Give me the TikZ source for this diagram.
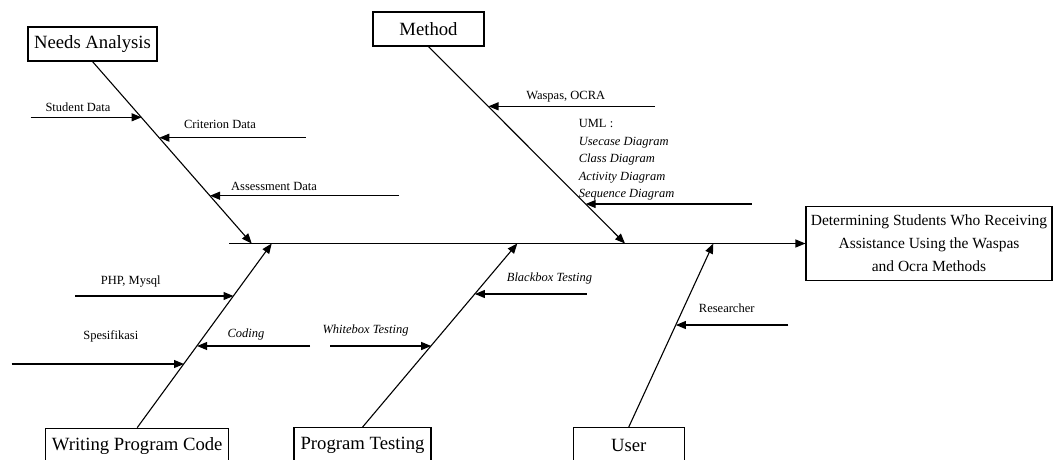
\documentclass[tikz,border=0pt]{standalone}
\usepackage{fontspec}
\setmainfont{Liberation Serif}
\usetikzlibrary{arrows.meta}
\begin{document}
\begin{tikzpicture}[x=1pt,y=-1pt,
  line width=1.1pt,
  box/.style={draw, line width=1.1pt, inner sep=0pt, font=\fontsize{18.7}{22}\selectfont},
  arr/.style={-{Triangle[length=10pt,width=8pt]}},
  lbl/.style={inner sep=0pt, font=\fontsize{12.5}{15}\selectfont},
  ilbl/.style={inner sep=0pt, font=\fontsize{12.5}{15}\selectfont\itshape},
]
\useasboundingbox (0,0) rectangle (1054,459);
\clip (0,0) rectangle (1054,459);

% category boxes
\node[box, minimum width=129pt, minimum height=34pt] (na) at (92.5,44) {Needs Analysis};
\node[box, minimum width=111pt, minimum height=34pt] (me) at (428.5,29) {Method};
\node[box, minimum width=183pt, minimum height=35pt] (wpc) at (137.2,445.7) {Writing Program Code};
\node[box, minimum width=137pt, minimum height=35pt] (pt) at (362.5,445.2) {Program Testing};
\node[box, minimum width=110.7pt, minimum height=35pt] (us) at (628.7,445.2) {User};
\node[box, align=center, minimum width=246pt, minimum height=74pt,
      font=\fontsize{15.5}{23}\selectfont] (out) at (929,243.5)
      {Determining Students Who Receiving\\Assistance Using the Waspas\\and Ocra Methods};

% spine
\coordinate (spL) at (229,243.5);
\draw[arr] (spL) -- (out.west);

% bones
\coordinate (t1) at (251.7,243.5);
\coordinate (t2) at (625,243.5);
\coordinate (t3) at (271.7,243.5);
\coordinate (t4) at (517.3,243.5);
\coordinate (t5) at (713.3,243.5);
\draw[arr] (na.south) -- (t1);
\draw[arr] (me.south) -- (t2);
\draw[arr] (wpc.north) -- (t3);
\draw[arr] (pt.north) -- (t4);
\draw[arr] (us.north) -- (t5);

% Needs Analysis causes
\coordinate (a0) at (30.7,117.3);  \coordinate (a1) at (141.6,117.3);
\coordinate (b0) at (305.7,137.7); \coordinate (b1) at (159.4,137.7);
\coordinate (c0) at (399,195.7);   \coordinate (c1) at (210.0,195.7);
\draw[arr] (a0) -- (a1);
\draw[arr] (b0) -- (b1);
\draw[arr] (c0) -- (c1);
\node[lbl] (la) at (78,107.7) {Student Data};
\node[lbl] (lb) at (220,124) {Criterion Data};
\node[lbl] (lc) at (274,186.7) {Assessment Data};

% Method causes
\coordinate (d0) at (655,106.3);   \coordinate (d1) at (488.5,106.3);
\coordinate (e0) at (751.7,204);   \coordinate (e1) at (585.7,204);
\draw[arr] (d0) -- (d1);
\draw[arr] (e0) -- (e1);
\node[lbl] (ld) at (565.7,96.7) {Waspas, OCRA};
\node[lbl, align=left, anchor=west, font=\fontsize{12.5}{17.6}\selectfont] (le) at (578.3,160)
  {UML :\\\textit{Usecase Diagram}\\\textit{Class Diagram}\\\textit{Activity Diagram}\\\textit{Sequence Diagram}};

% Writing Program Code causes
\coordinate (f0) at (75,296);      \coordinate (f1) at (233.5,296);
\coordinate (g0) at (11.7,364);    \coordinate (g1) at (184.0,364);
\coordinate (h0) at (310,346);     \coordinate (h1) at (197.1,346);
\draw[arr] (f0) -- (f1);
\draw[arr] (g0) -- (g1);
\draw[arr] (h0) -- (h1);
\node[lbl] (lf) at (130.8,281.7) {PHP, Mysql};
\node[lbl] (lg) at (110.8,336.7) {Spesifikasi};
\node[ilbl] (lh) at (246,334.7) {Coding};

% Program Testing causes
\coordinate (i0) at (330,346);     \coordinate (i1) at (431.2,346);
\coordinate (j0) at (586.7,294);   \coordinate (j1) at (474.9,294);
\draw[arr] (i0) -- (i1);
\draw[arr] (j0) -- (j1);
\node[ilbl] (li) at (365.5,330) {Whitebox Testing};
\node[ilbl] (lj) at (549.5,278.3) {Blackbox Testing};

% User causes
\coordinate (k0) at (788.3,325);   \coordinate (k1) at (675.9,325);
\draw[arr] (k0) -- (k1);
\node[lbl] (lk) at (726.7,308) {Researcher};
\end{tikzpicture}
\end{document}
